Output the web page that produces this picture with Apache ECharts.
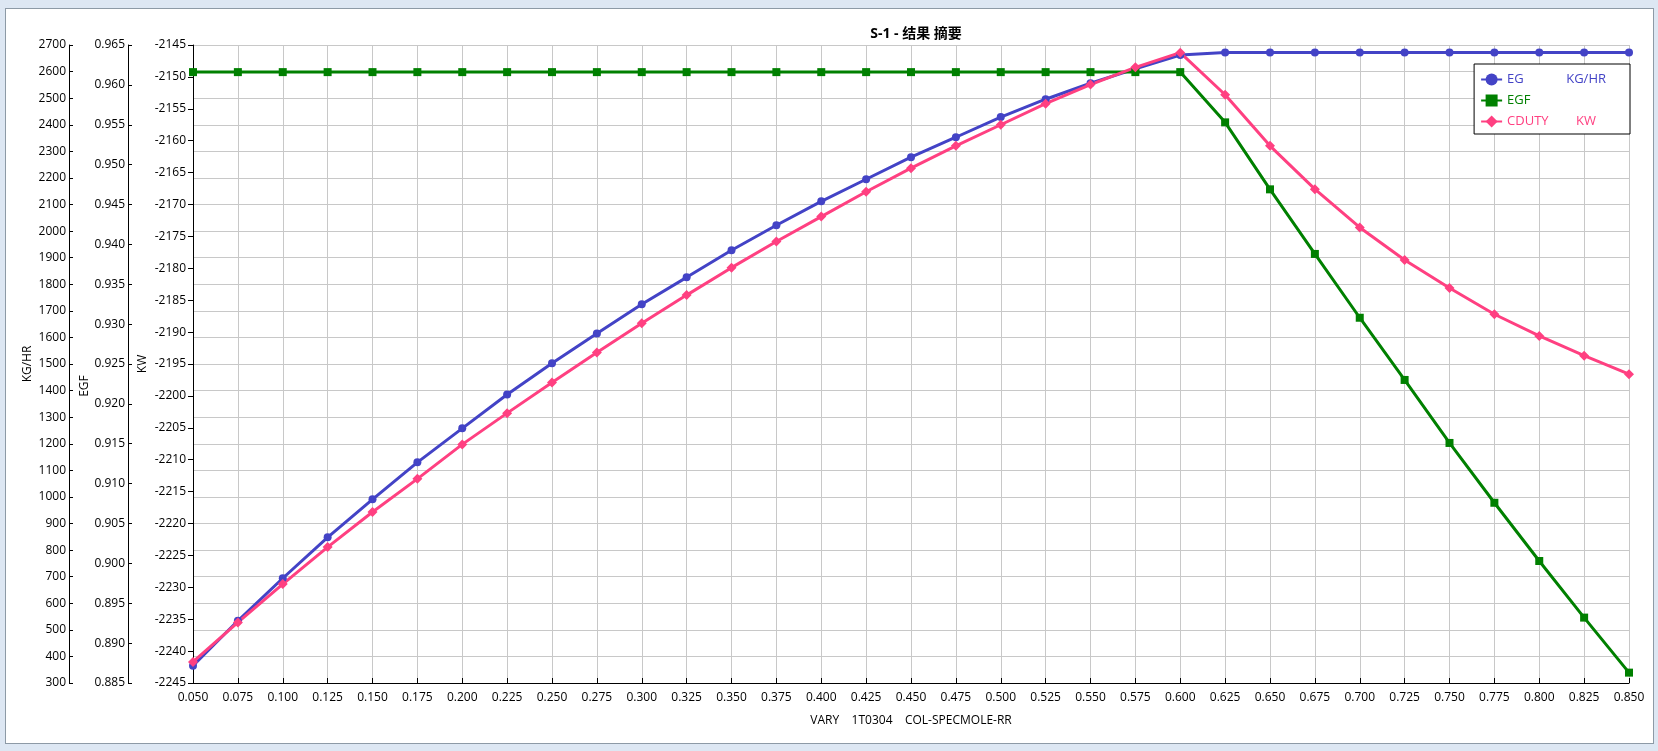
<!DOCTYPE html>
<html>
<head>
<meta charset="utf-8">
<title>S-1 - 结果 摘要</title>
<script src="https://cdn.jsdelivr.net/npm/echarts@6/dist/echarts.min.js"></script>
<style>
  html, body { margin: 0; padding: 0; background: #dde7f3; }
  #frame { position: absolute; left: 5px; top: 8px; width: 1649px; height: 736px;
           box-sizing: border-box; border: 1px solid #8d9aa6; background: #fff; }
  #chart { position: absolute; left: 0; top: 0; width: 1658px; height: 751px; }
</style>
</head>
<body>
<div id="frame"></div>
<div id="chart"></div>
<script>
// 数据
var xValues = [0.050, 0.075, 0.100, 0.125, 0.150, 0.175, 0.200, 0.225, 0.250, 0.275,
               0.300, 0.325, 0.350, 0.375, 0.400, 0.425, 0.450, 0.475, 0.500, 0.525,
               0.550, 0.575, 0.600, 0.625, 0.650, 0.675, 0.700, 0.725, 0.750, 0.775,
               0.800, 0.825, 0.850];
var egValues = [365, 534, 694, 848, 991, 1130, 1258, 1385, 1503, 1615,
                1725, 1826, 1928, 2022, 2112, 2195, 2278, 2353, 2429, 2496,
                2556, 2610, 2662, 2672, 2672, 2672, 2672, 2672, 2672, 2672,
                2672, 2672, 2672];
var egfValues = [0.9616, 0.9616, 0.9616, 0.9616, 0.9616, 0.9616, 0.9616, 0.9616, 0.9616, 0.9616,
                 0.9616, 0.9616, 0.9616, 0.9616, 0.9616, 0.9616, 0.9616, 0.9616, 0.9616, 0.9616,
                 0.9616, 0.9616, 0.9616, 0.9553, 0.9469, 0.9388, 0.9308, 0.9230, 0.9151, 0.9076,
                 0.9003, 0.8932, 0.8863];
var cdutyValues = [-2241.7, -2235.5, -2229.5, -2223.7, -2218.2, -2213.0, -2207.6, -2202.7, -2197.9, -2193.2,
                   -2188.6, -2184.2, -2179.9, -2175.8, -2171.9, -2168.0, -2164.3, -2160.8, -2157.5, -2154.2,
                   -2151.2, -2148.5, -2146.2, -2152.8, -2160.8, -2167.6, -2173.6, -2178.7, -2183.1, -2187.2,
                   -2190.6, -2193.7, -2196.6];
var seriesNames = ['EG', 'EGF', 'CDUTY'];
var seriesUnits = ['KG/HR', '', 'KW'];
var seriesColors = ['#4343c6', '#008000', '#ff4081'];
var seriesSymbols = ['circle', 'rect', 'diamond'];

function pairs(ys) {
    var out = [];
    for (var i = 0; i < xValues.length; i++) out.push([xValues[i], ys[i]]);
    return out;
}

var font = '"Open Sans", "Noto Sans", "Noto Sans CJK SC", sans-serif';
var axisText = { color: '#000', fontSize: 12, fontFamily: font };
function plain(v) { return String(v); }

var myChart = echarts.init(document.getElementById('chart'), null, { renderer: 'canvas' });

var option = {
    animation: false,
    backgroundColor: 'transparent',
    title: {
        text: 'S-1 - 结果 摘要',
        left: 911,
        textAlign: 'center',
        top: 22,
        textStyle: { fontSize: 14, fontWeight: 'bold', color: '#000', fontFamily: font }
    },
    grid: { left: 193, right: 29, top: 45, bottom: 68, containLabel: false },
    legend: {
        orient: 'vertical',
        right: 28,
        top: 64,
        backgroundColor: '#fff',
        borderColor: '#000',
        borderWidth: 1,
        borderRadius: 0,
        padding: [9, 24, 6, 6],
        itemWidth: 21,
        itemHeight: 15,
        itemGap: 8,
        data: seriesNames.map(function (n, i) {
            return { name: n, textStyle: { color: seriesColors[i] } };
        }),
        formatter: function (name) {
            var i = seriesNames.indexOf(name);
            return '{n|' + name + '}{u|' + seriesUnits[i] + '}';
        },
        textStyle: {
            fontSize: 13,
            fontFamily: font,
            rich: {
                n: { width: 59, fontSize: 13, fontFamily: font },
                u: { width: 40, align: 'center', fontSize: 13, fontFamily: font }
            }
        }
    },
    xAxis: {
        type: 'value',
        min: 0.05,
        max: 0.85,
        interval: 0.025,
        name: 'VARY    1T0304    COL-SPECMOLE-RR',
        nameLocation: 'middle',
        nameGap: 32,
        nameMoveOverlap: false,
        nameTextStyle: axisText,
        axisLine: { lineStyle: { color: '#000', width: 1 } },
        axisTick: { inside: true, length: 5, lineStyle: { color: '#000' } },
        axisLabel: {
            color: '#000', fontSize: 12, fontFamily: font, margin: 9,
            formatter: function (v) { return v.toFixed(3); }
        },
        splitLine: { show: true, lineStyle: { color: '#c8c8c8', width: 1 } }
    },
    yAxis: [{
        type: 'value',
        position: 'left',
        offset: 124,
        min: 300,
        max: 2700,
        interval: 100,
        name: 'KG/HR',
        nameLocation: 'middle',
        nameRotate: 90,
        nameGap: 35,
        nameMoveOverlap: false,
        nameTextStyle: axisText,
        axisLine: { show: true, lineStyle: { color: '#000', width: 1 } },
        axisTick: { show: true, inside: true, length: 4, lineStyle: { color: '#000' } },
        axisLabel: { color: '#000', fontSize: 12, fontFamily: font, margin: 3, formatter: plain },
        splitLine: { show: true, lineStyle: { color: '#c8c8c8', width: 1 } }
    }, {
        type: 'value',
        position: 'left',
        offset: 65,
        min: 0.885,
        max: 0.965,
        interval: 0.005,
        name: 'EGF',
        nameLocation: 'middle',
        nameRotate: 90,
        nameGap: 37,
        nameMoveOverlap: false,
        nameTextStyle: { color: '#000', fontSize: 12, fontFamily: font, padding: [0, 44, 0, 0] },
        axisLine: { show: true, lineStyle: { color: '#000', width: 1 } },
        axisTick: { show: true, inside: true, length: 4, lineStyle: { color: '#000' } },
        axisLabel: {
            color: '#000', fontSize: 12, fontFamily: font, margin: 3,
            formatter: function (v) { return v.toFixed(3); }
        },
        splitLine: { show: false }
    }, {
        type: 'value',
        position: 'left',
        offset: 0,
        min: -2245,
        max: -2145,
        interval: 5,
        name: 'KW',
        nameLocation: 'middle',
        nameRotate: 90,
        nameGap: 44,
        nameMoveOverlap: false,
        nameTextStyle: axisText,
        axisLine: { show: true, lineStyle: { color: '#000', width: 1 } },
        axisTick: { show: true, inside: false, length: 5, lineStyle: { color: '#000' } },
        axisLabel: { color: '#000', fontSize: 12, fontFamily: font, margin: 7, formatter: plain },
        splitLine: { show: false }
    }],
    series: [egValues, egfValues, cdutyValues].map(function (vals, i) {
        return {
            name: seriesNames[i],
            type: 'line',
            yAxisIndex: i,
            data: pairs(vals),
            symbol: seriesSymbols[i],
            symbolSize: i === 2 ? 10 : 8,
            showSymbol: true,
            itemStyle: { color: seriesColors[i] },
            lineStyle: { color: seriesColors[i], width: 3 }
        };
    })
};

myChart.setOption(option, true);
</script>
</body>
</html>
